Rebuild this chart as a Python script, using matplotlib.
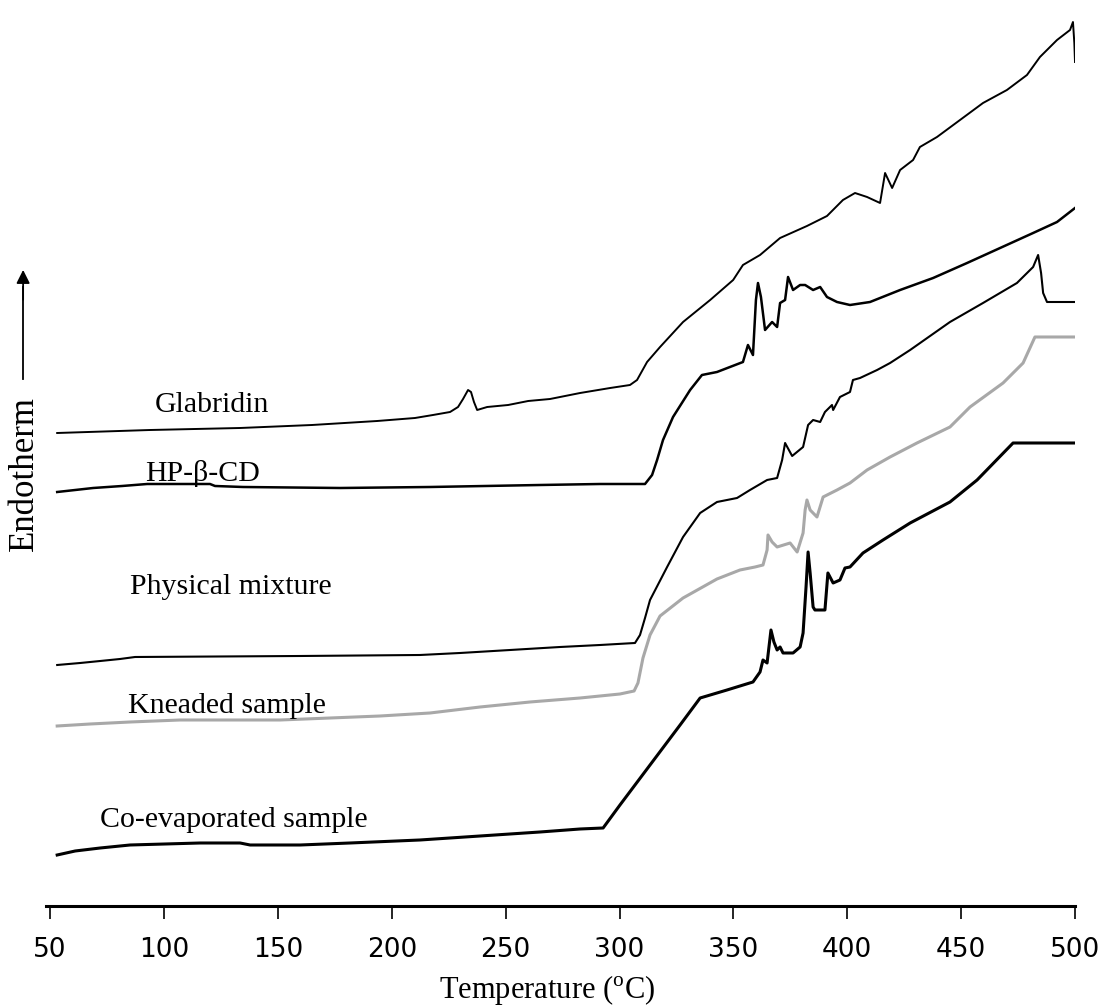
import matplotlib.pyplot as plt

plt.rcParams['mathtext.fontset'] = 'custom'
plt.rcParams['mathtext.rm'] = 'Liberation Serif'

# DSC traces (temperature in degC, heat flow in arbitrary units)
glab_t = [53.1, 93.9, 133.4, 165.0, 193.6, 210.2, 218.1, 225.6, 229.1, 231.3, 233.5, 234.8,
          236.1, 237.5, 241.9, 251.1, 259.9, 269.5, 282.7, 295.9, 304.6, 307.7, 312.1, 317.8,
          327.9, 339.8, 349.9, 354.2, 361.7, 370.5, 382.3, 391.1, 398.1, 403.4, 408.7, 414.4,
          416.6, 419.7, 423.2, 428.9, 431.9, 439.4, 449.5, 459.6, 470.1, 478.9, 484.6, 492.1,
          497.8, 499.1, 499.7, 500.0]
glab_y = [473, 476, 478, 481, 485, 488, 491, 494, 499, 507, 516, 514,
          504, 496, 499, 501, 505, 507, 513, 518, 521, 526, 544, 559,
          584, 606, 626, 641, 651, 668, 680, 690, 706, 713, 709, 703,
          733, 718, 736, 746, 759, 769, 786, 803, 816, 831, 849, 866,
          876, 884, 863, 844]

hp_t = [53.1, 61.0, 68.9, 81.6, 92.6, 120.2, 122.4, 134.7, 177.3, 216.8, 265.1, 291.5,
        311.2, 314.3, 316.5, 319.1, 323.5, 331.0, 336.2, 342.8, 348.5, 354.2, 356.4, 358.6,
        359.9, 360.8, 362.1, 363.9, 367.0, 369.2, 370.5, 372.7, 374.0, 376.2, 379.3, 381.5,
        385.0, 388.1, 391.1, 395.5, 401.2, 410.0, 423.2, 437.7, 452.6, 467.1, 481.6, 492.1, 500.0]
hp_y = [414, 416, 418, 420, 422, 422, 420, 419, 418, 419, 421, 422,
        422, 431, 446, 466, 489, 516, 531, 534, 539, 544, 561, 551,
        606, 623, 609, 576, 584, 579, 603, 606, 629, 616, 621, 621,
        616, 619, 609, 604, 601, 604, 616, 628, 643, 658, 673, 684, 698]

phys_t = [53.1, 63.2, 72.0, 80.7, 87.3, 159.8, 212.4, 230.0, 252.0, 273.9, 291.5, 306.8,
          309.0, 311.2, 313.4, 320.9, 327.9, 335.4, 342.8, 351.6, 357.3, 364.8, 369.2, 371.4,
          372.7, 375.8, 380.6, 382.8, 385.0, 388.1, 390.2, 393.3, 393.8, 396.8, 401.2, 402.5,
          405.6, 413.1, 418.8, 427.6, 445.1, 459.6, 474.5, 481.6, 483.8, 485.1, 486.0, 487.7, 500.0]
phys_y = [241, 243, 245, 247, 249, 250, 251, 253, 256, 259, 261, 263,
          271, 288, 306, 339, 369, 393, 404, 408, 416, 426, 428, 446,
          463, 450, 459, 481, 486, 484, 494, 501, 496, 509, 514, 526,
          528, 536, 543, 556, 584, 603, 623, 639, 651, 633, 613, 604, 604]

knead_t = [53.1, 67.6, 85.1, 107.1, 129.0, 151.0, 194.9, 216.8, 238.8, 260.7, 282.7, 300.2,
           306.4, 308.1, 310.3, 313.4, 317.8, 327.9, 342.8, 352.9, 359.5, 363.0, 364.8, 365.2,
           367.0, 369.2, 374.9, 378.0, 380.6, 381.5, 382.3, 383.7, 386.7, 389.4, 395.5, 401.2,
           408.7, 418.8, 430.6, 445.1, 453.9, 468.4, 477.2, 482.4, 500.0]
knead_y = [180, 182, 184, 186, 186, 186, 190, 193, 199, 204, 208, 212,
           215, 223, 248, 271, 290, 308, 327, 336, 339, 341, 356, 371,
           364, 359, 363, 354, 373, 396, 406, 396, 389, 409, 416, 423,
           436, 449, 463, 479, 499, 523, 543, 569, 569]

coev_t = [53.1, 61.0, 72.0, 85.1, 115.9, 133.4, 137.8, 159.8, 181.7, 212.4, 238.8, 265.1,
          282.7, 292.8, 300.2, 313.4, 326.6, 335.4, 347.2, 358.6, 361.7, 363.0, 364.8, 366.5,
          367.8, 369.2, 370.5, 371.8, 376.2, 379.3, 380.6, 381.9, 382.8, 383.7, 385.0, 385.8,
          390.2, 391.5, 393.8, 396.8, 399.0, 401.2, 406.9, 415.7, 427.6, 445.1, 457.0, 472.8, 500.0]
coev_y = [51, 55, 58, 61, 63, 63, 61, 61, 63, 66, 70, 74,
          77, 78, 101, 141, 181, 208, 216, 224, 234, 246, 243, 276,
          264, 256, 259, 253, 253, 259, 273, 319, 354, 333, 299, 296,
          296, 333, 323, 326, 338, 339, 353, 366, 383, 404, 426, 463, 463]

names = ['Glabridin', 'HP-\u03b2-CD', 'Physical mixture', 'Kneaded sample', 'Co-evaporated sample']
name_t = [96.1, 91.7, 85.1, 84.2, 72.0]
name_y = [501, 432, 319, 200, 86]

fig = plt.figure(figsize=(11.01, 10.08), dpi=100)
ax = fig.add_axes([0.0418, 0.1012, 0.9346, 0.8988])

ax.plot(glab_t, glab_y, color='black', lw=1.4)
ax.plot(hp_t, hp_y, color='black', lw=1.8)
ax.plot(phys_t, phys_y, color='black', lw=1.5)
ax.plot(knead_t, knead_y, color='#a8a8a8', lw=2.2)
ax.plot(coev_t, coev_y, color='black', lw=2.2)

for nm, tx, ty in zip(names, name_t, name_y):
    ax.text(tx, ty, nm, fontsize=21.5, family='Liberation Serif', va='center', ha='left')

ax.set_xlim(48.2, 500)
ax.set_ylim(0, 906)
ax.set_xticks(range(50, 501, 50))
ax.set_yticks([])
for s in ['top', 'right', 'left']:
    ax.spines[s].set_visible(False)
ax.spines['bottom'].set_linewidth(2.2)
ax.tick_params(axis='x', direction='out', length=9, width=1.2, pad=13, labelsize=19)

ax.set_xlabel('Temperature ($^{\\rm o}$C)', fontsize=22, family='Liberation Serif')
ax.xaxis.set_label_coords(0.487, -0.074)

# Endotherm label with arrow
fig.text(0.022, 0.530, 'Endotherm', rotation=90, fontsize=25, family='Liberation Serif',
         ha='center', va='center')
fig.add_artist(plt.Line2D([0.021, 0.021], [0.624, 0.715], color='black', lw=1.3))
ax.annotate('', xy=(0.021, 0.735), xycoords='figure fraction',
            xytext=(0.021, 0.70), textcoords='figure fraction',
            arrowprops=dict(arrowstyle='-|>', color='black', lw=1.3, mutation_scale=20))

fig.savefig('out.png', dpi=100)
